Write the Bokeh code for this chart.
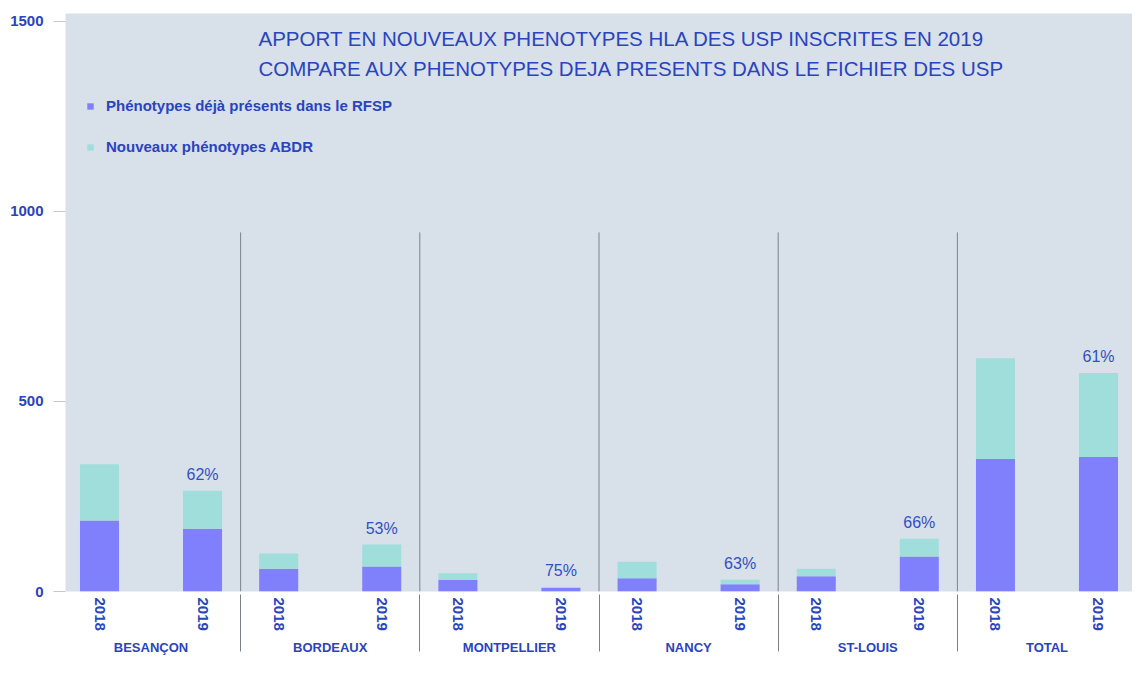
from bokeh.plotting import figure
from bokeh.models import (FactorRange, Range1d, FixedTicker, Label, Legend, LegendItem,
                          ColumnDataSource)
from bokeh.core.properties import value
from bokeh.embed import file_html
from bokeh.resources import INLINE

# ---------------- data ----------------
cities = ["BESANÇON", "BORDEAUX", "MONTPELLIER", "NANCY", "ST-LOUIS", "TOTAL"]
years = ["2018", "2019"]
deja_2018 = [187, 60, 30, 35, 40, 349]
nouveaux_2018 = [148, 40, 18, 43, 20, 265]
deja_2019 = [165, 66, 9, 19, 92, 354]
nouveaux_2019 = [100, 58, 3, 12, 47, 221]
pct_2019 = ["62%", "53%", "75%", "63%", "66%", "61%"]
series_names = ["Phénotypes déjà présents dans le RFSP", "Nouveaux phénotypes ABDR"]
title_lines = ["APPORT EN NOUVEAUX PHENOTYPES HLA DES USP INSCRITES EN 2019",
               "COMPARE AUX PHENOTYPES DEJA PRESENTS DANS LE FICHIER DES USP"]
y_ticks = [0, 500, 1000, 1500]

# ---------------- style ----------------
BLUE = "#2a44c0"
PURPLE = "#8080fc"
TEAL = "#a0dedb"
BG = "#d8e0ea"
SEP = "#7d838c"
FONT = "Liberation Sans"
FACTOR_PAD = 0.515
GROUP_PAD = 0.12
SEP_TOP = 945

factors = [(c, y) for c in cities for y in years]
deja = [v for pair in zip(deja_2018, deja_2019) for v in pair]
nouveaux = [v for pair in zip(nouveaux_2018, nouveaux_2019) for v in pair]
source = ColumnDataSource(dict(x=factors, deja=deja, nouveaux=nouveaux))

x_range = FactorRange(factors=factors, factor_padding=FACTOR_PAD,
                      group_padding=GROUP_PAD, range_padding=0)

p = figure(width=1132, height=657, x_range=x_range, y_range=Range1d(0, 1521),
           output_backend="svg", toolbar_location=None,
           min_border_left=65, min_border_right=0, min_border_top=13, min_border_bottom=60,
           background_fill_color=BG, border_fill_color="white", outline_line_color=None)
p.xgrid.visible = False
p.ygrid.visible = False

# in-plot separators between groups
sep_x = [(cities[i], years[-1], (1 + GROUP_PAD) / 2) for i in range(len(cities) - 1)]
sep_src = ColumnDataSource(dict(x=sep_x, y0=[0] * len(sep_x), y1=[SEP_TOP] * len(sep_x)))
p.segment(x0="x", y0="y0", x1="x", y1="y1", source=sep_src, line_color=SEP, line_width=1)

renderers = p.vbar_stack(["deja", "nouveaux"], x="x", width=0.574, source=source,
                         fill_color=[PURPLE, TEAL], line_color=None)

# percentage labels above 2019 bars
totals_2019 = [a + b for a, b in zip(deja_2019, nouveaux_2019)]
pct_src = ColumnDataSource(dict(x=[(c, years[1]) for c in cities], y=totals_2019, text=pct_2019))
p.text(x="x", y="y", text="text", source=pct_src, text_align="center", text_baseline="middle",
       y_offset=-16, text_font=value(FONT), text_font_size=value("16px"), text_color="#3050c4")

# title lines
for i, line in enumerate(title_lines):
    p.add_layout(Label(x=193, y=1455 - 78 * i, x_units="screen", y_units="data", text=line,
                       text_font=FONT, text_font_size="20.5px", text_color=BLUE,
                       text_align="left", text_baseline="middle"))

legend = Legend(items=[LegendItem(label=series_names[i], renderers=[renderers[i]]) for i in range(2)],
                location=(21, 436), orientation="vertical", glyph_width=8, glyph_height=8,
                label_height=16, spacing=24, padding=0, margin=0, label_standoff=12,
                background_fill_alpha=0, border_line_color=None,
                label_text_font=FONT, label_text_font_size="15px", label_text_font_style="bold",
                label_text_color=BLUE)
p.add_layout(legend)

# y axis
yax = p.yaxis[0]
yax.ticker = FixedTicker(ticks=y_ticks)
yax.axis_line_color = None
yax.major_tick_line_color = "#c3c8cf"
yax.major_tick_out = 12
yax.major_tick_in = 0
yax.minor_tick_line_color = None
yax.major_label_standoff = 10
yax.major_label_text_font = FONT
yax.major_label_text_font_size = "15px"
yax.major_label_text_font_style = "bold"
yax.major_label_text_color = BLUE

# x axis
xax = p.xaxis[0]
xax.axis_line_color = None
xax.major_tick_line_color = None
xax.major_tick_out = 0
xax.major_tick_in = 0
xax.minor_tick_line_color = None
xax.major_label_orientation = "vertical"
xax.major_label_standoff = 6
xax.major_label_text_font = FONT
xax.major_label_text_font_size = "15px"
xax.major_label_text_font_style = "bold"
xax.major_label_text_color = BLUE
xax.group_text_font = FONT
xax.group_text_font_size = "13px"
xax.group_text_font_style = "bold"
xax.group_text_color = BLUE
xax.separator_line_color = SEP
xax.separator_line_width = 1

open("out.html", "w").write(file_html(p, INLINE))
